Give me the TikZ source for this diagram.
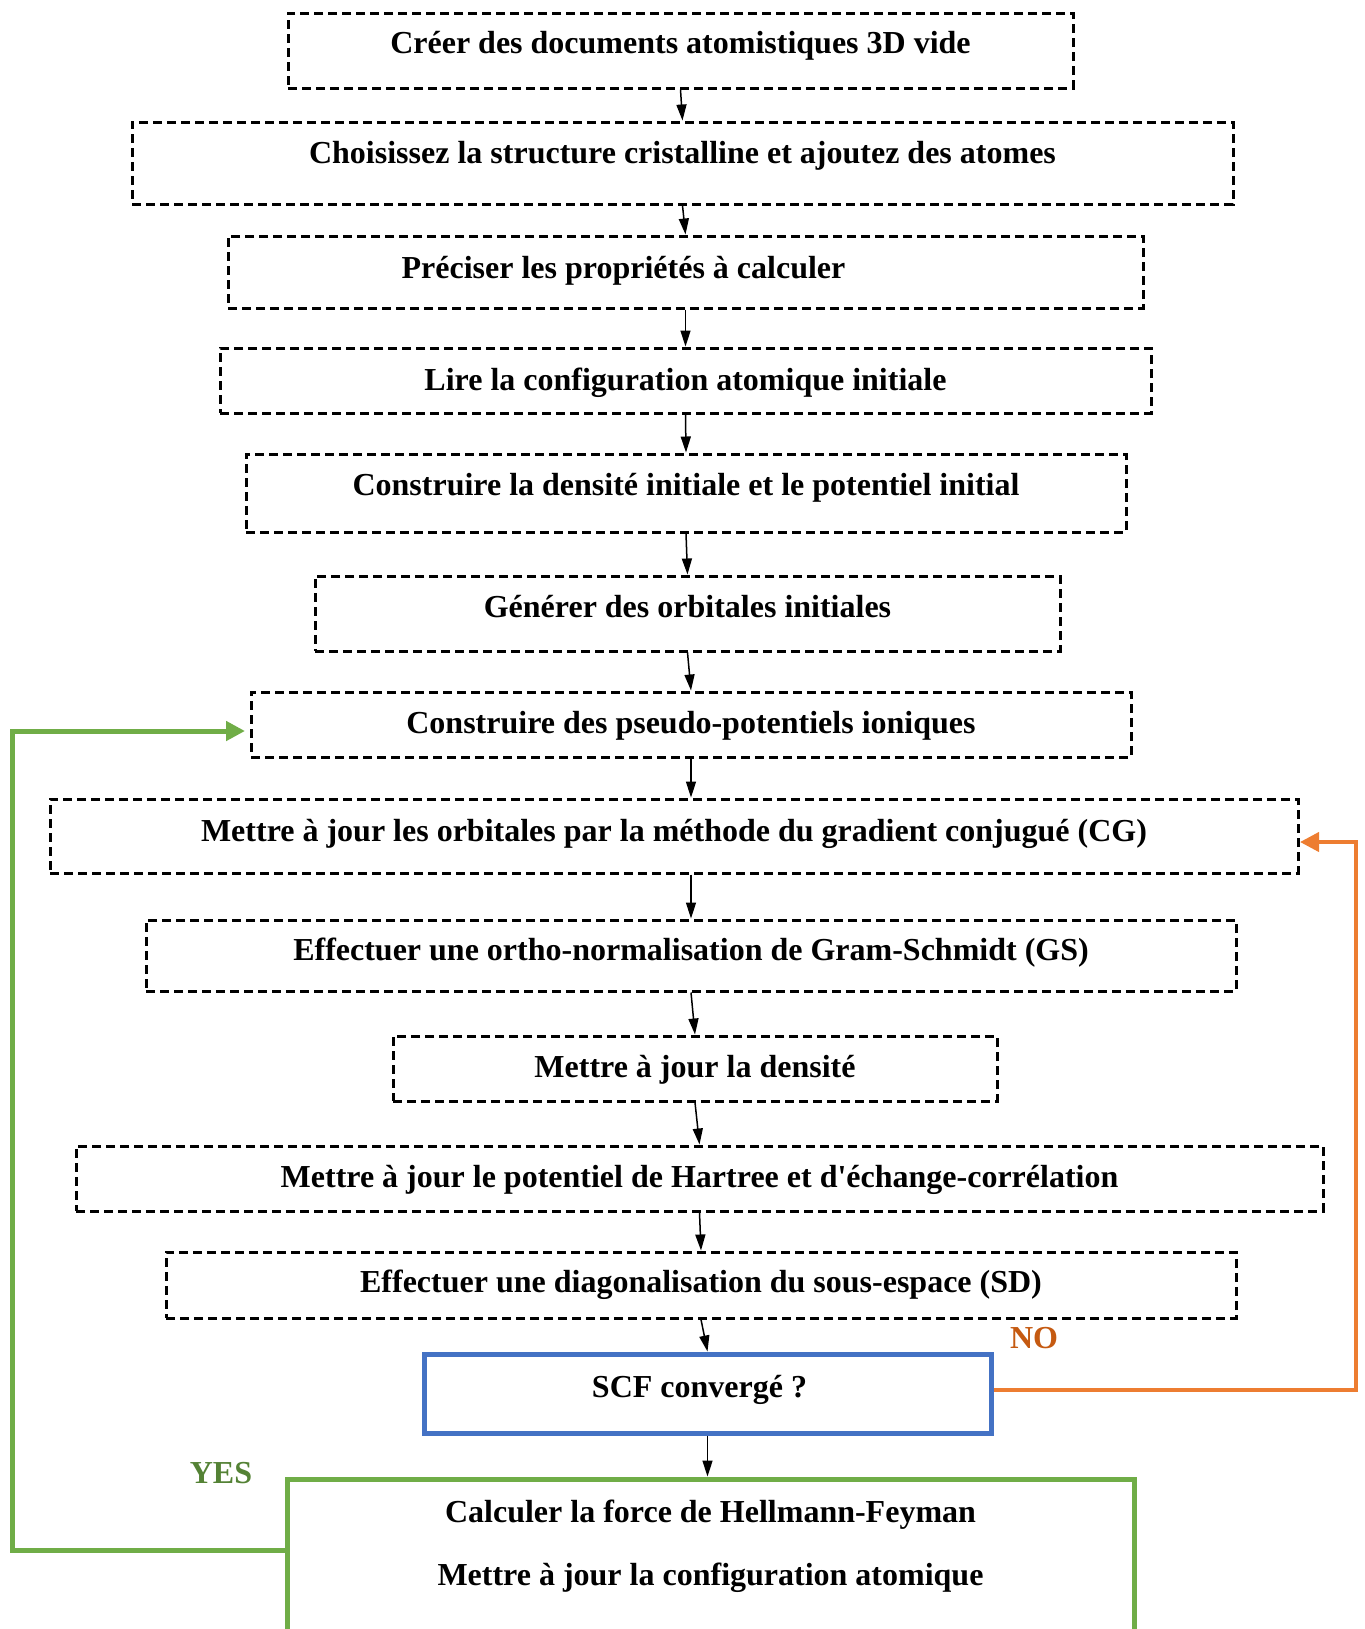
\documentclass[tikz,border=0pt]{standalone}
\usepackage{fontspec}
\setmainfont{Liberation Serif}[Ligatures=TeXOff]
\usetikzlibrary{arrows.meta}
\definecolor{loopgreen}{HTML}{70AD47}
\definecolor{yesgreen}{HTML}{548235}
\definecolor{loopor}{HTML}{ED7D31}
\definecolor{noor}{HTML}{C55A11}
\definecolor{scfblue}{HTML}{4472C4}
\begin{document}
\begin{tikzpicture}[x=0.5pt,y=-0.5pt,
  dbox/.style={draw=black, line width=1.5pt, dash pattern=on 4.5pt off 2.5pt, inner sep=0pt},
  lbl/.style={anchor=base, inner sep=0pt, font=\bfseries\fontsize{16pt}{19pt}\selectfont},
  arr/.style={-{Triangle[length=8pt,width=5pt]}, line width=0.75pt},
  garr/.style={-{Triangle[length=9.5pt,width=9.5pt]}, draw=loopgreen, line width=2.5pt},
  oarr/.style={-{Triangle[length=9.5pt,width=9.5pt]}, draw=loopor, line width=2pt}]
\useasboundingbox (0,0) rectangle (1365,1629);

% process steps (dashed boxes)
\node[dbox, minimum width=392.5pt, minimum height=37.5pt] (b1) at (680.5,50.5) {};
\node[dbox, minimum width=550.5pt, minimum height=41pt]   (b2) at (682.5,163) {};
\node[dbox, minimum width=457.5pt, minimum height=36pt]   (b3) at (685.5,272) {};
\node[dbox, minimum width=465.5pt, minimum height=32.5pt] (b4) at (685.5,380.5) {};
\node[dbox, minimum width=440pt,   minimum height=39pt]   (b5) at (686,493) {};
\node[dbox, minimum width=372.5pt, minimum height=37.5pt] (b6) at (687.5,613.5) {};
\node[dbox, minimum width=440pt,   minimum height=32.5pt] (b7) at (691,724.5) {};
\node[dbox, minimum width=624pt,   minimum height=37pt]   (b8) at (674,836) {};
\node[dbox, minimum width=545pt,   minimum height=35.5pt] (b9) at (691,955.5) {};
\node[dbox, minimum width=302pt,   minimum height=32.5pt] (b10) at (695,1068.5) {};
\node[dbox, minimum width=623.5pt, minimum height=32.5pt] (b11) at (699.5,1178.5) {};
\node[dbox, minimum width=535pt,   minimum height=33pt]   (b12) at (701,1285) {};

% convergence test and final step
\node[draw=scfblue, line width=2.5pt, inner sep=0pt, minimum width=283.5pt, minimum height=39.5pt] (scf) at (707.5,1393.5) {};
\node[draw=loopgreen, line width=2.5pt, inner sep=0pt, minimum width=423.5pt, minimum height=90.5pt] (bot) at (710.5,1569.5) {};

% box texts
\node[lbl] (t1) at (680.5,53) {Créer des documents atomistiques 3D vide};
\node[lbl] (t2) at (682.5,163) {Choisissez la structure cristalline et ajoutez des atomes};
\node[lbl] (t3) at (623.5,278) {Préciser les propriétés à calculer};
\node[lbl] (t4) at (685.5,390) {Lire la configuration atomique initiale};
\node[lbl] (t5) at (686,495) {Construire la densité initiale et le potentiel initial};
\node[lbl] (t6) at (687.5,617) {Générer des orbitales initiales};
\node[lbl] (t7) at (691,733) {Construire des pseudo-potentiels ioniques};
\node[lbl] (t8) at (674,841) {Mettre à jour les orbitales par la méthode du gradient conjugué (CG)};
\node[lbl] (t9) at (691,960) {Effectuer une ortho-normalisation de Gram-Schmidt (GS)};
\node[lbl] (t10) at (695,1077) {Mettre à jour la densité};
\node[lbl] (t11) at (699.5,1187) {Mettre à jour le potentiel de Hartree et d'échange-corrélation};
\node[lbl] (t12) at (701,1292) {Effectuer une diagonalisation du sous-espace (SD)};
\node[lbl] (t13) at (699.5,1397) {SCF convergé ?};
\node[lbl] (t14) at (710.5,1522) {Calculer la force de Hellmann-Feyman};
\node[lbl] (t15) at (710.5,1585) {Mettre à jour la configuration atomique};

% branch labels
\node[lbl, text=noor] (no) at (1034,1348) {NO};
\node[lbl, text=yesgreen] (yes) at (221,1483) {YES};

% main flow
\draw[arr] (b1.south) -- (b2.north);
\draw[arr] (b2.south) -- (b3.north);
\draw[arr] (b3.south) -- (b4.north);
\draw[arr] (b4.south) -- (b5.north);
\draw[arr] (b5.south) -- (b6.north);
\draw[arr] (b6.south) -- (b7.north);
\draw[arr] (b7.south) -- (b7.south |- b8.north);
\draw[arr] (b9.north |- b8.south) -- (b9.north);
\draw[arr] (b9.south) -- (b10.north);
\draw[arr] (b10.south) -- (b11.north);
\draw[arr] (b11.south) -- (b12.north);
\draw[arr] (b12.south) -- (scf.north);
\draw[arr] (scf.south) -- (scf.south |- bot.north);

% NO loop back to the CG update
\coordinate (oy) at (0,1390);
\coordinate (ocorner) at (1356,842);
\coordinate (otip) at (1300,842);
\draw[oarr] (scf.east |- oy) -| (ocorner) -- (otip);

% YES loop back to the pseudo-potentials
\coordinate (gy) at (0,1550);
\coordinate (gx) at (12,0);
\coordinate (gtip) at (245,731);
\draw[garr] (bot.west |- gy) -| (gx |- gtip) -- (gtip);
\end{tikzpicture}
\end{document}
